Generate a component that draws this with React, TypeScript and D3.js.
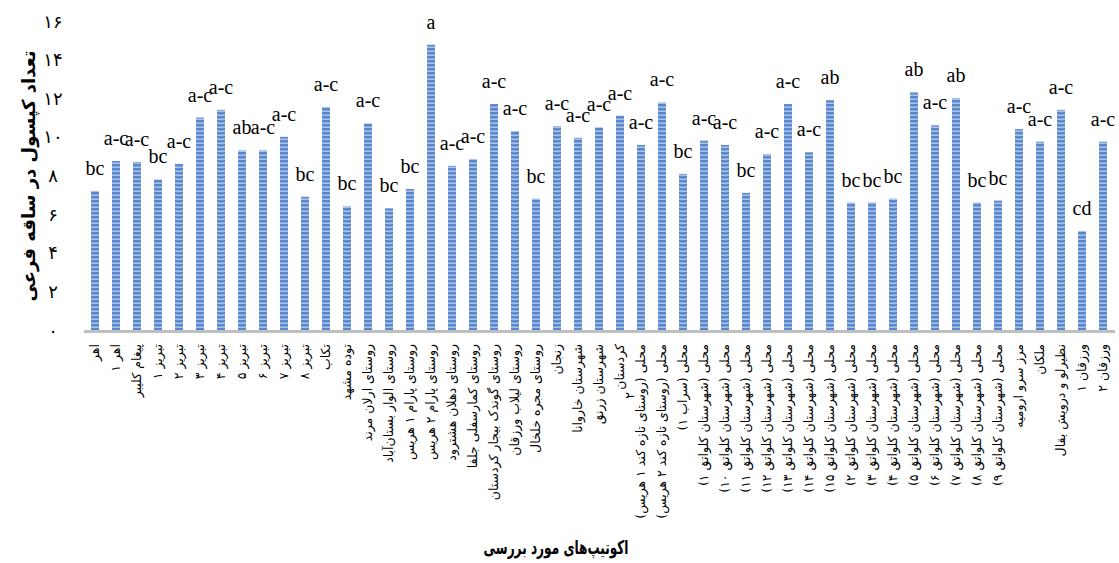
import React from "react";
import * as d3 from "d3";

const categories: string[] = [
  "اهر", "اهر ۱", "پیغام کلیبر", "تبریز ۱", "تبریز ۲", "تبریز ۳", "تبریز ۴", "تبریز ۵", "تبریز ۶", "تبریز ۷", "تبریز ۸",
  "تکاب", "توده مشهد", "روستای ارلان مرند", "روستای الوار بستان‌آباد", "روستای پارام ۱ هریس", "روستای پارام ۲ هریس",
  "روستای دهلان هشترود", "روستای کمارسفلی جلفا", "روستای گوندک بیجار کردستان", "روستای لیلاب ورزقان", "روستای مجره خلخال",
  "زنجان", "شهرستان خاروانا", "شهرستان زرنق", "کردستان|۲",
  "محلی (روستای تازه کند ۱ هریس)", "محلی (روستای تازه کند ۲ هریس)", "محلی (سراب ۱)",
  "محلی (شهرستان کلواتق ۱)", "محلی (شهرستان کلواتق ۱۰)", "محلی (شهرستان کلواتق ۱۱)", "محلی (شهرستان کلواتق ۱۲)",
  "محلی (شهرستان کلواتق ۱۳)", "محلی (شهرستان کلواتق ۱۴)", "محلی (شهرستان کلواتق ۱۵)", "محلی (شهرستان کلواتق ۲)",
  "محلی (شهرستان کلواتق ۳)", "محلی (شهرستان کلواتق ۴)", "محلی (شهرستان کلواتق ۵)", "محلی (شهرستان کلواتق ۶)",
  "محلی (شهرستان کلواتق ۷)", "محلی (شهرستان کلواتق ۸)", "محلی (شهرستان کلواتق ۹)",
  "مرز سرو ارومیه", "ملکان", "نظیرلو و درویش بقال", "ورزقان ۱", "ورزقان ۲",
];

const values: number[] = [
  7.2, 8.75, 8.7, 7.8, 8.6, 11.0, 11.4, 9.3, 9.3, 10.0,
  6.9, 11.55, 6.4, 10.7, 6.3, 7.3, 14.77, 8.5, 8.85, 11.7,
  10.3, 6.8, 10.55, 9.95, 10.5, 11.1, 9.58, 11.78, 8.08, 9.8,
  9.58, 7.1, 9.1, 11.7, 9.2, 11.9, 6.6, 6.6, 6.8, 12.3,
  10.6, 12.0, 6.6, 6.7, 10.4, 9.75, 11.4, 5.13, 9.75,
];

const letters: string[] = [
  "bc", "a-c", "a-c", "bc", "a-c", "a-c", "a-c", "ab", "a-c", "a-c",
  "bc", "a-c", "bc", "a-c", "bc", "bc", "a", "a-c", "a-c", "a-c",
  "a-c", "bc", "a-c", "a-c", "a-c", "a-c", "a-c", "a-c", "bc", "a-c",
  "a-c", "bc", "a-c", "a-c", "a-c", "ab", "bc", "bc", "bc", "ab",
  "a-c", "ab", "bc", "bc", "a-c", "a-c", "a-c", "cd", "a-c",
];

const yTicks: number[] = [0, 2, 4, 6, 8, 10, 12, 14, 16];
const yTickLabels: string[] = ["۰", "۲", "۴", "۶", "۸", "۱۰", "۱۲", "۱۴", "۱۶"];

const yTitle = "تعداد کپسول در ساقه فرعی";
const xTitle = "اکوتیپ‌های مورد بررسی";

const W = 1119;
const H = 563;

export default function App() {
  const x = d3.scaleBand<string>().domain(categories).range([84.5, 1113.5]).paddingInner(0.62).paddingOuter(0.31);
  const y = d3.scaleLinear().domain([0, 16]).range([330, 21]);
  const persian = "'DejaVu Sans', sans-serif";

  return (
    <svg width={W} height={H} style={{ position: "absolute", left: 0, top: 0, background: "#fff" }}>
      <defs>
        <pattern id="stripes" patternUnits="userSpaceOnUse" width="8" height="4">
          <rect width="8" height="4" fill="#5b88cc" />
          <rect y="2.5" width="8" height="1.5" fill="#a9c3ea" />
        </pattern>
      </defs>
      {categories.map((c, i) => {
        const bx = x(c)!;
        const by = y(values[i]);
        return (
          <g key={i}>
            <rect x={bx} y={by} width={x.bandwidth()} height={y(0) - by} fill="url(#stripes)" />
            <text
              x={bx + x.bandwidth() / 2}
              y={by - 16}
              textAnchor="middle"
              fontFamily="'Liberation Serif', 'Times New Roman', serif"
              fontSize={20}
              fill="#000"
            >
              {letters[i]}
            </text>
          </g>
        );
      })}
      <line x1={84} x2={1115} y1={331.5} y2={331.5} stroke="#bfbfbf" strokeWidth={3} />
      {yTicks.map((t, i) => (
        <text key={t} x={53} y={y(t)} textAnchor="middle" dominantBaseline="central" fontFamily={persian} fontSize={18} fill="#000">
          {yTickLabels[i]}
        </text>
      ))}
      {categories.map((c, i) => {
        const cx = x(c)! + x.bandwidth() / 2;
        const lines = c.split("|");
        return (
          <text
            key={"l" + i}
            transform={`translate(${cx},344) rotate(-90)`}
            direction="rtl"
            textAnchor="start"
            fontFamily={persian}
            fontSize={12.5}
            fill="#000"
          >
            {lines.map((ln, j) => (
              <tspan key={j} x={j === 0 ? 0 : -48} y={0} dy={`${0.35 + j * 0.8}em`}>
                {ln}
              </tspan>
            ))}
          </text>
        );
      })}
      <text
        transform={`translate(28,176) rotate(-90)`}
        textAnchor="middle"
        dominantBaseline="central"
        fontFamily={persian}
        fontWeight="bold"
        fontSize={18}
        fill="#000"
      >
        {yTitle}
      </text>
      <text
        x={556}
        y={554}
        textAnchor="middle"
        fontFamily={persian}
        fontWeight="bold"
        fontSize={19}
        textLength={145}
        lengthAdjust="spacingAndGlyphs"
        fill="#000"
      >
        {xTitle}
      </text>
    </svg>
  );
}
